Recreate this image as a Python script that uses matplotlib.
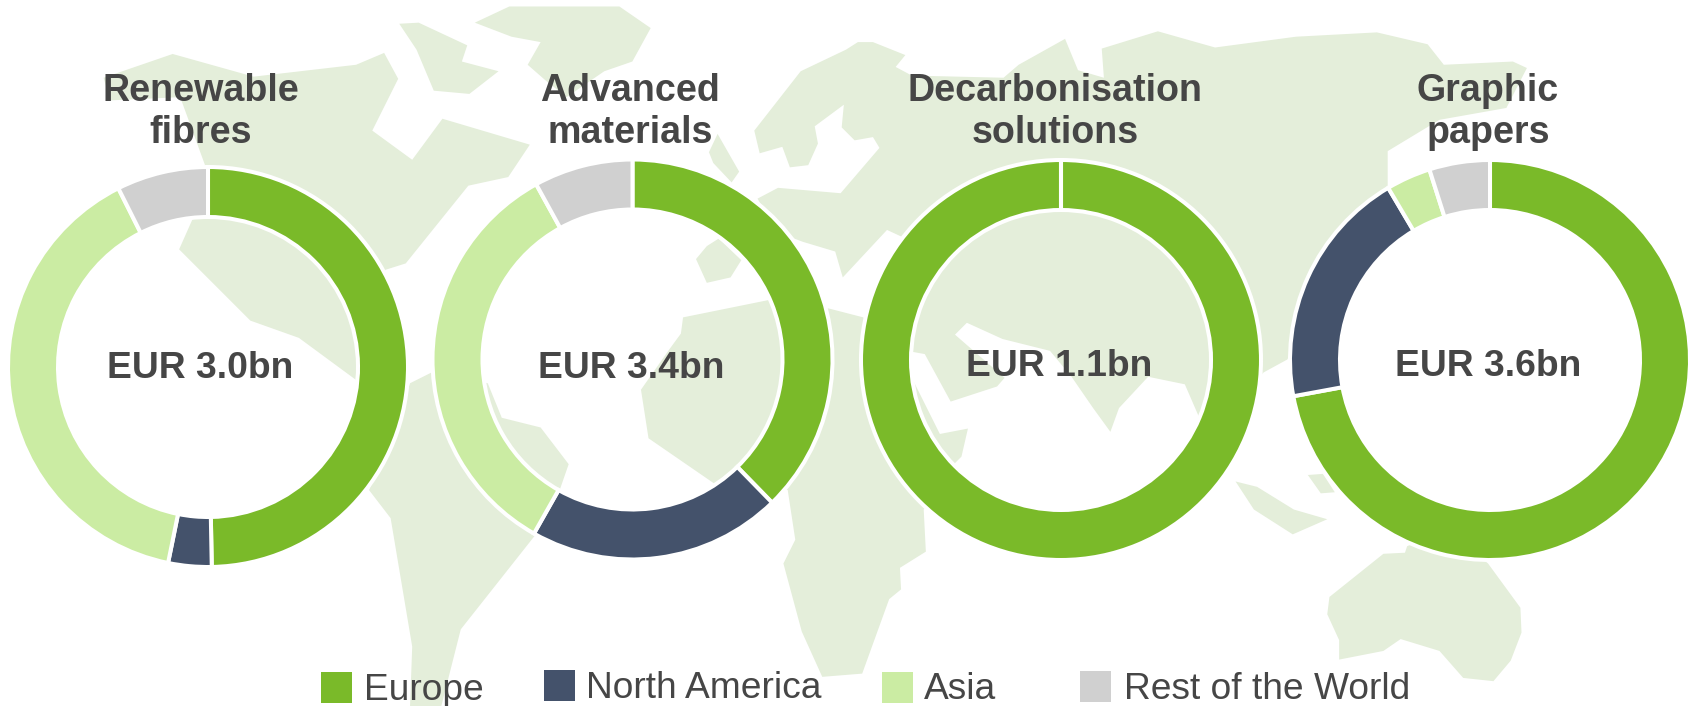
import numpy as np
import matplotlib
matplotlib.use('Agg')
import matplotlib.pyplot as plt
from matplotlib.patches import Polygon, Rectangle

plt.rcParams['font.family'] = ['Liberation Sans', 'DejaVu Sans']

# shares per region, clockwise from 12 o'clock
regions = ['Europe', 'North America', 'Asia', 'Rest of the World']
region_colors = ['#7aba29', '#44526b', '#cbeca3', '#d0d0d0']
titles = ['Renewable\nfibres', 'Advanced\nmaterials', 'Decarbonisation\nsolutions', 'Graphic\npapers']
totals = ['EUR 3.0bn', 'EUR 3.4bn', 'EUR 1.1bn', 'EUR 3.6bn']
renewable_fibres = [49.7, 3.5, 39.4, 7.4]
advanced_materials = [37.7, 20.5, 33.8, 8.0]
decarbonisation = [100, 0, 0, 0]
graphic_papers = [72.1, 19.4, 3.6, 4.9]
shares = [renewable_fibres, advanced_materials, decarbonisation, graphic_papers]

# world map backdrop, traced outlines
north_america = [(160,50),(235,71),(330,60),(356,49),(369,73),(345,121),(382,148),(410,110),(491,134),
                 (471,164),(434,172),(376,244),(357,250),(345,300),(330,352),(277,313),(232,297),(166,231),
                 (178,204),(190,153),(167,90),(102,93),(96,72)]
arctic_islands = [(370,22),(388,21),(433,42),(428,57),(462,66),(435,87),(402,84),(386,46)]
greenland = [(440,21),(472,6),(574,6),(603,26),(586,57),(560,66),(525,90),(505,74),(489,60),(501,39),(474,34)]
south_america = [(400,345),(452,355),(465,387),(501,396),(527,430),(519,453),(495,497),(427,583),(409,654),
                 (380,654),(382,599),(362,480),(342,454),(365,400),(380,355)]
uk = [(665,124),(685,159),(678,169),(661,151),(657,141)]
iberia = [(645,240),(655,228),(666,221),(687,241),(677,257),(655,262)]
africa = [(633,294),(712,278),(740,280),(769,286),(800,294),(825,320),(846,352),(871,402),(897,397),(891,423),
          (884,430),(870,450),(856,472),(858,511),(834,526),(835,546),(824,555),(799,624),(762,627),(743,585),
          (726,522),(737,500),(730,454),(700,440),(662,448),(601,406),(594,361),(620,324),(631,309)]
eurasia = [(699,121),(742,66),(784,46),(795,39),(809,39),(839,51),(830,62),(845,70),(930,72),(944,60),(987,36),
           (999,65),(1023,72),(1021,45),(1073,29),(1126,44),(1201,34),(1276,30),(1323,41),(1338,60),(1402,57),
           (1415,63),(1396,100),(1334,111),(1286,140),(1286,173),(1230,250),(1200,320),(1193,333),(1171,345),
           (1130,390),(1111,386),(1098,356),(1064,349),(1037,378),(1029,400),(1013,378),(993,349),(973,325),
           (929,314),(896,299),(885,310),(931,350),(924,358),(881,372),(857,328),(846,326),(830,300),(838,240),
           (835,219),(822,213),(781,257),(774,233),(744,224),(720,215),(702,184),(721,174),(779,179),(815,137),
           (809,127),(792,130),(780,118),(782,97),(755,117),(758,133),(749,153),(732,155),(725,136),(704,142)]
indonesia_west = [(1145,446),(1165,451),(1199,472),(1230,481),(1198,495),(1162,472)]
indonesia_east = [(1212,440),(1226,439),(1237,456),(1224,457)]
australia = [(1304,506),(1302,512),(1282,513),(1232,553),(1230,569),(1241,593),(1241,611),(1282,603),(1298,592),
             (1334,603),(1356,628),(1384,631),(1400,612),(1410,586),(1409,563),(1379,522),(1340,490)]
land = [north_america, arctic_islands, greenland, south_america, uk, iberia, africa, eurasia,
        indonesia_west, indonesia_east, australia]

W, H = 1692, 706
fig = plt.figure(figsize=(W / 100, H / 100), dpi=100, facecolor='white')

# backdrop
bg = fig.add_axes([0, 0, 1, 1], zorder=0)
bg.set_xlim(0, 1568)
bg.set_ylim(654, 0)
bg.axis('off')
for shape in land:
    bg.add_patch(Polygon(shape, closed=True, facecolor='#e4eeda', edgecolor='none'))

# donuts
centers = [(208, 367), (632.5, 359.5), (1061, 360), (1490, 360)]
R = 200
pad = 1.05
for (cx, cy), vals in zip(centers, shares):
    half = R * pad
    ax = fig.add_axes([(cx - half) / W, 1 - (cy + half) / H, 2 * half / W, 2 * half / H], zorder=1)
    ax.pie(vals, colors=region_colors, startangle=90, counterclock=False, radius=1,
           wedgeprops={'width': 0.25, 'edgecolor': 'white', 'linewidth': 2.9})
    ax.set_xlim(-pad, pad)
    ax.set_ylim(-pad, pad)
    ax.axis('off')

# text and legend sit on top, in pixel coordinates
top = fig.add_axes([0, 0, 1, 1], zorder=2)
top.set_xlim(0, W)
top.set_ylim(H, 0)
top.axis('off')

title_x = [200.7, 630, 1055, 1488]
total_x = [200, 631, 1059, 1488]
total_y = [368, 368, 366, 366]
text_color = '#464646'
for t, x in zip(titles, title_x):
    top.text(x, 112, t, ha='center', va='center', fontsize=27.1, fontweight='bold',
             color=text_color, linespacing=1.23)
for t, x, y in zip(totals, total_x, total_y):
    top.text(x, y, t, ha='center', va='center', fontsize=26.8, fontweight='bold', color=text_color)

legend_x = [321, 544, 882, 1080]
legend_y = [672, 670, 672, 671]
legend_text_x = [364, 586, 924, 1124]
legend_base = [700, 698, 699, 699]
for name, col, x, y, tx, by in zip(regions, region_colors, legend_x, legend_y, legend_text_x, legend_base):
    top.add_patch(Rectangle((x, y), 31, 31, facecolor=col, edgecolor='none'))
    top.text(tx, by, name, ha='left', va='baseline', fontsize=26.7, color=text_color)

fig.savefig('out.png', dpi=100)
